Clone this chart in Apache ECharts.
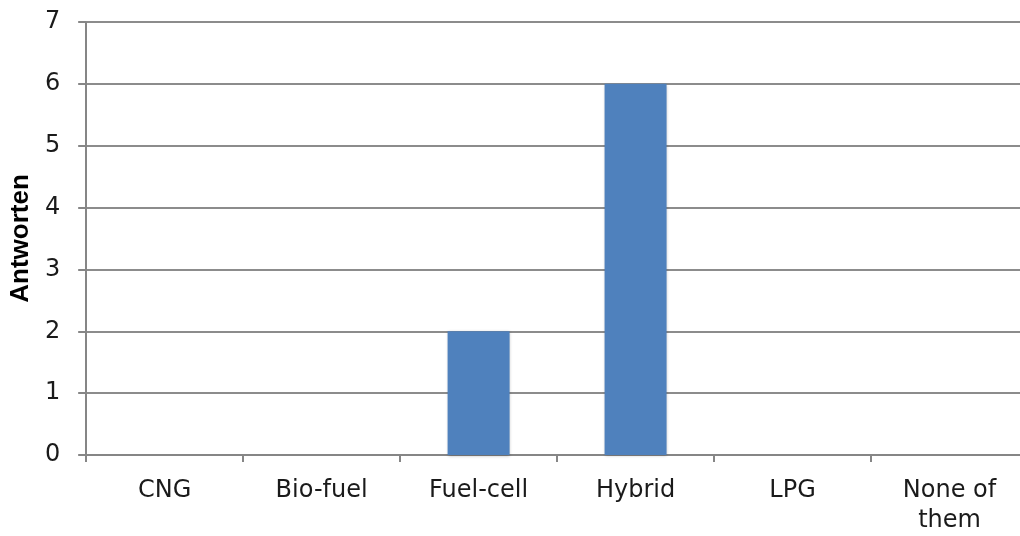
<!DOCTYPE html>
<html><head><meta charset="utf-8">
<script src="https://cdn.jsdelivr.net/npm/echarts@6/dist/echarts.min.js"></script>
<style>html,body{margin:0;padding:0;background:#fff;overflow:hidden;width:1020px;height:536px}#c{width:1028px;height:536px}</style>
</head><body><div id="c"></div>
<script>
var categories = ['CNG', 'Bio-fuel', 'Fuel-cell', 'Hybrid', 'LPG', 'None of\nthem'];
var values = [0, 0, 2, 6, 0, 0];
var yTitle = 'Antworten';

var chart = echarts.init(document.getElementById('c'));
chart.setOption({
  animation: false,
  grid: { left: 84, top: 22, right: 0, height: 433, containLabel: false },
  xAxis: {
    type: 'category', data: categories,
    axisLine: { lineStyle: { color: '#868686', width: 2 } },
    axisTick: { show: true, alignWithLabel: false, length: 7, lineStyle: { color: '#868686', width: 2 } },
    axisLabel: { color: '#1a1a1a', fontSize: 24, fontFamily: 'DejaVu Sans', margin: 21, lineHeight: 30, interval: 0 }
  },
  yAxis: {
    type: 'value', min: 0, max: 7, interval: 1,
    name: yTitle, nameLocation: 'middle', nameGap: 48, nameRotate: 90,
    nameTextStyle: { fontSize: 26, fontWeight: 'bold', fontFamily: 'Liberation Sans', color: '#000' },
    axisLine: { show: true, lineStyle: { color: '#868686', width: 2 } },
    axisTick: { show: true, length: 8, lineStyle: { color: '#868686', width: 2 } },
    splitLine: { lineStyle: { color: '#8c8c8c', width: 2 } },
    axisLabel: { color: '#1a1a1a', fontSize: 24, fontFamily: 'DejaVu Sans', margin: 26 }
  },
  series: [{
    type: 'bar', data: values, barWidth: 62,
    itemStyle: { color: '#4f81bd', shadowColor: 'rgba(0,0,0,0.25)', shadowBlur: 3, shadowOffsetY: 1 }
  }]
});
</script></body></html>
